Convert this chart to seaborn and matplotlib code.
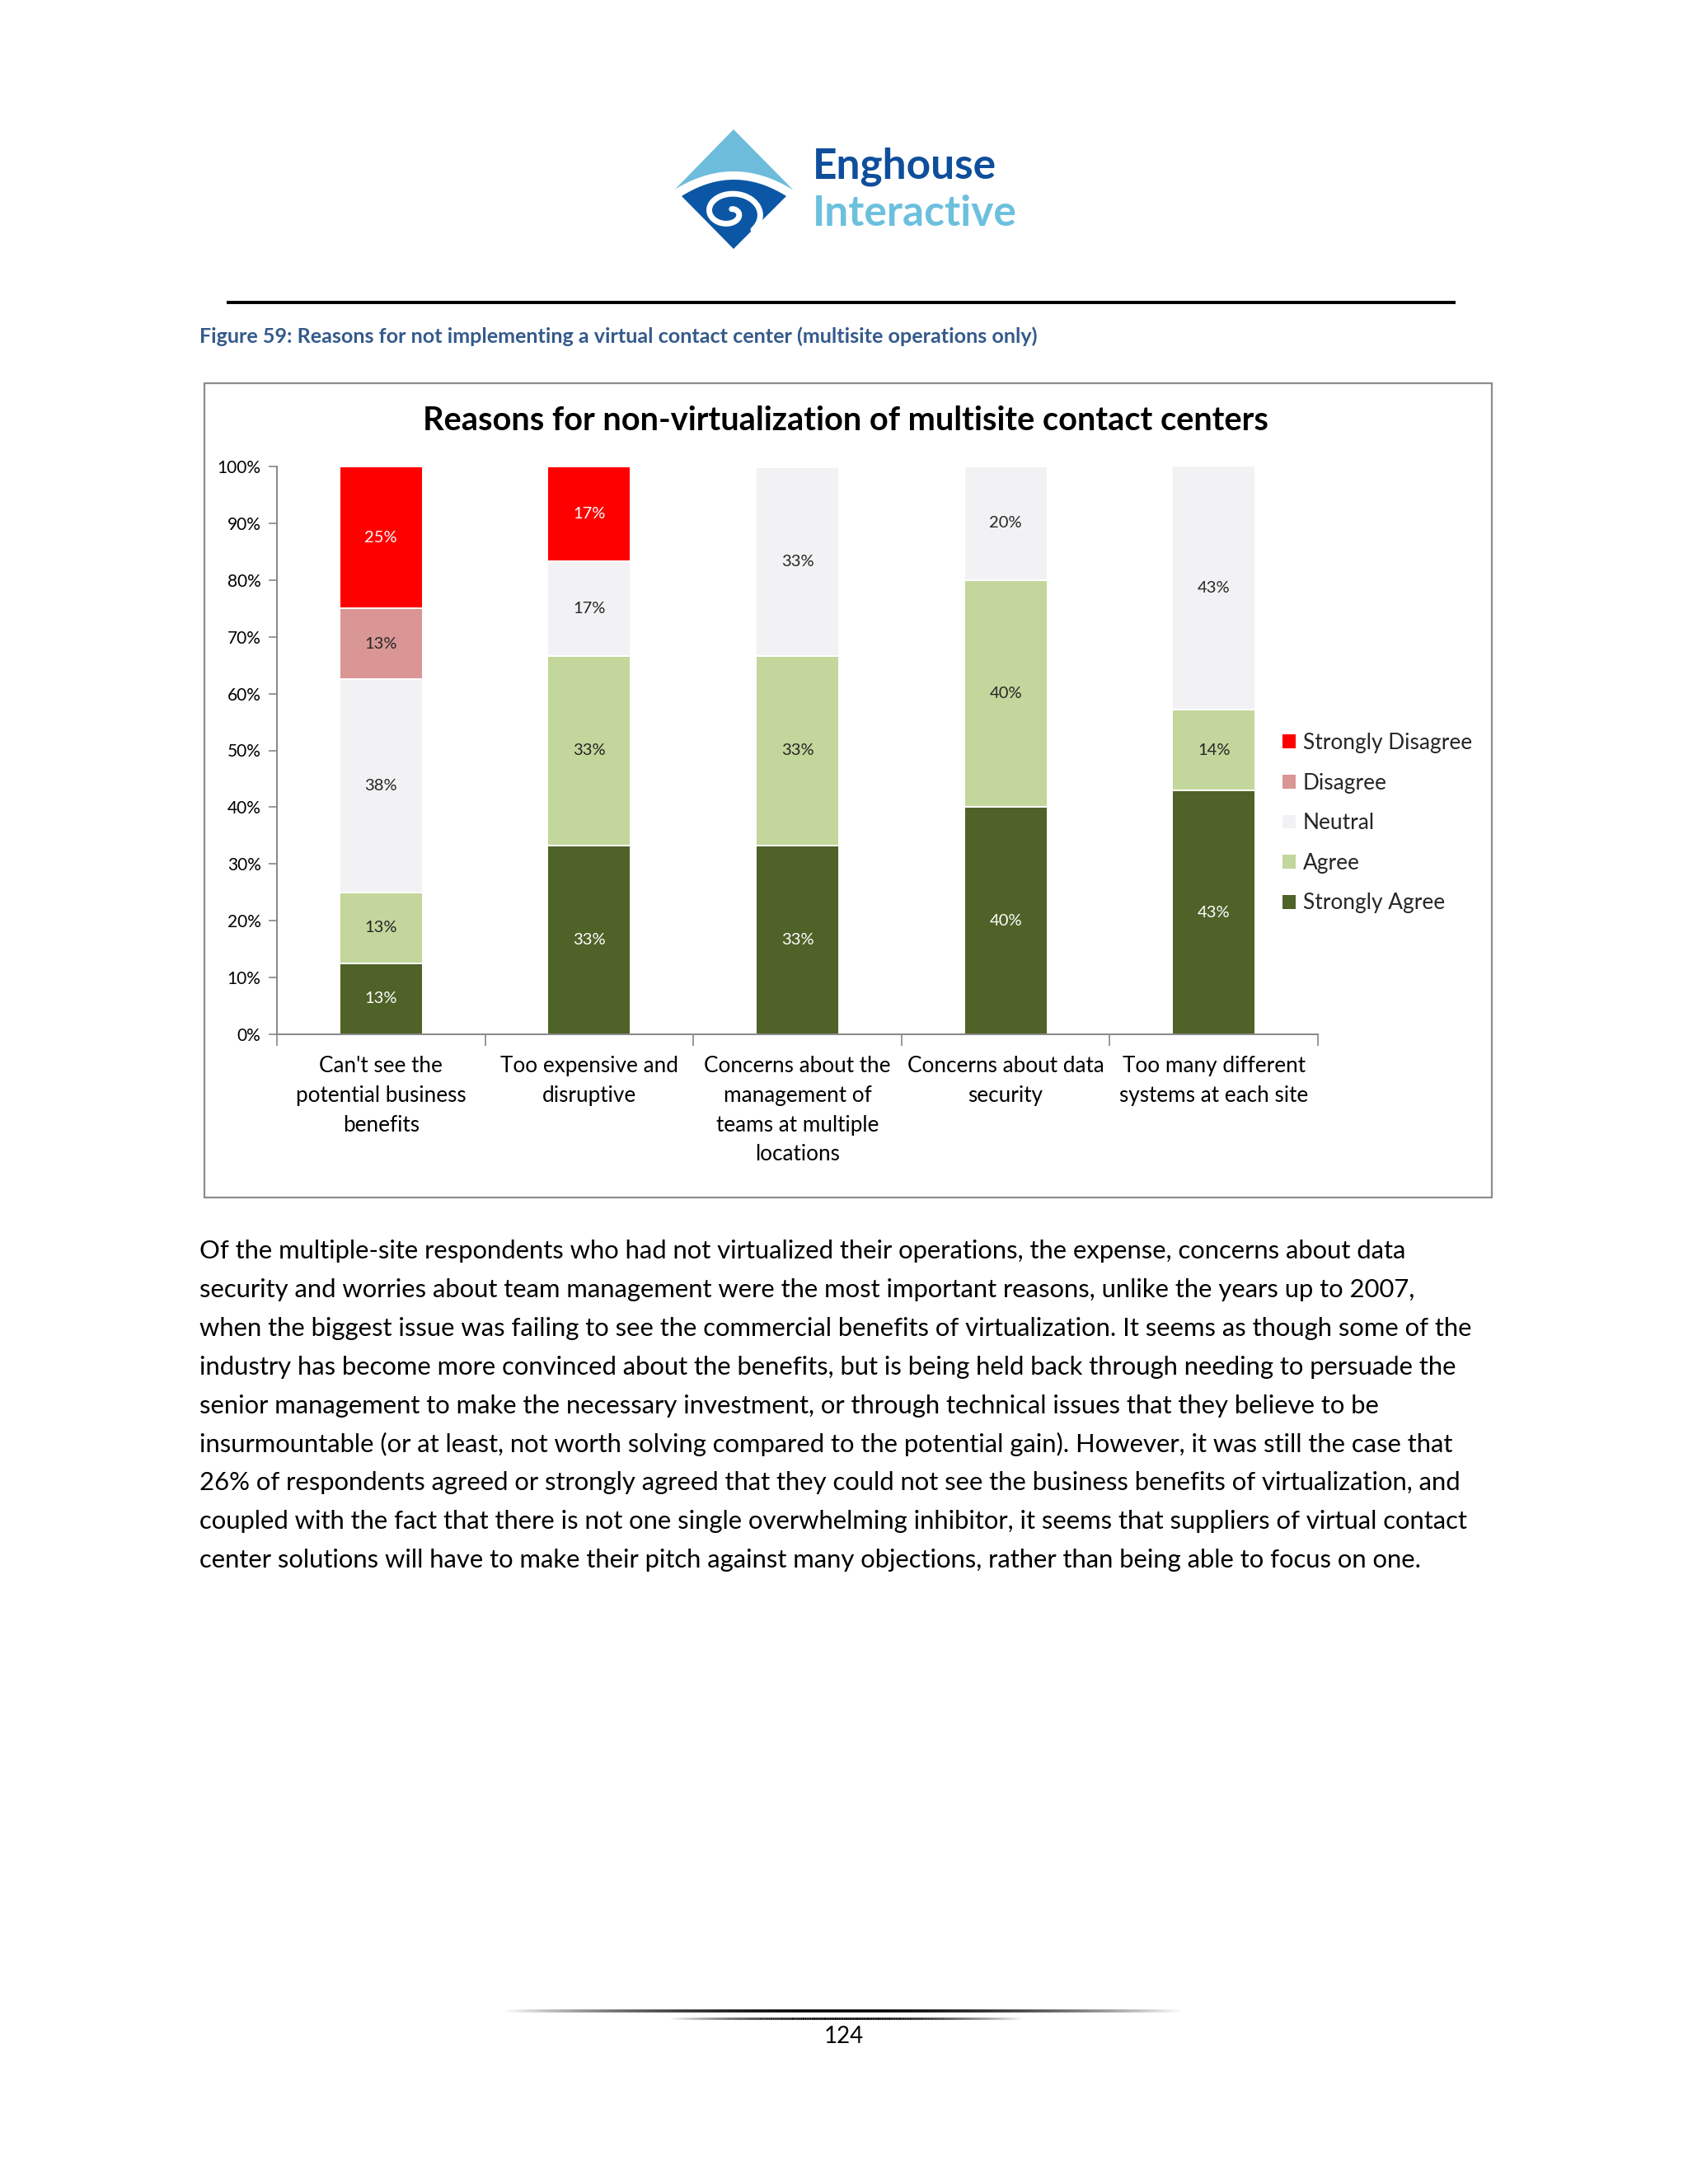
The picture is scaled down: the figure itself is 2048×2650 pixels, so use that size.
import numpy as np
import pandas as pd
import matplotlib
matplotlib.use("Agg")
import matplotlib.pyplot as plt
import seaborn as sns
from matplotlib.patches import Polygon, Rectangle, Patch
from matplotlib.collections import LineCollection
from matplotlib.ticker import PercentFormatter, FixedLocator

# ---------------- data ----------------
categories = [
    "Can't see the\npotential business\nbenefits",
    "Too expensive and\ndisruptive",
    "Concerns about the\nmanagement of\nteams at multiple\nlocations",
    "Concerns about data\nsecurity",
    "Too many different\nsystems at each site",
]
strongly_agree = [12.5, 33.3, 33.3, 40.0, 42.9]
agree = [12.5, 33.3, 33.3, 40.0, 14.3]
neutral = [37.5, 16.7, 33.3, 20.0, 42.9]
disagree = [12.5, 0.0, 0.0, 0.0, 0.0]
strongly_disagree = [25.0, 16.7, 0.0, 0.0, 0.0]

series_names = ["Strongly Agree", "Agree", "Neutral", "Disagree", "Strongly Disagree"]
series_colors = ["#4F6228", "#C3D69B", "#F2F1F3", "#D99694", "#FF0000"]
label_colors = ["white", "#262626", "#262626", "#262626", "white"]

chart_title = "Reasons for non-virtualization of multisite contact centers"
caption = "Figure 59: Reasons for not implementing a virtual contact center (multisite operations only)"
body_lines = [
    "Of the multiple-site respondents who had not virtualized their operations, the expense, concerns about data",
    "security and worries about team management were the most important reasons, unlike the years up to 2007,",
    "when the biggest issue was failing to see the commercial benefits of virtualization. It seems as though some of the",
    "industry has become more convinced about the benefits, but is being held back through needing to persuade the",
    "senior management to make the necessary investment, or through technical issues that they believe to be",
    "insurmountable (or at least, not worth solving compared to the potential gain). However, it was still the case that",
    "26% of respondents agreed or strongly agreed that they could not see the business benefits of virtualization, and",
    "coupled with the fact that there is not one single overwhelming inhibitor, it seems that suppliers of virtual contact",
    "center solutions will have to make their pitch against many objections, rather than being able to focus on one.",
]
page_number = "124"

# ---------------- setup ----------------
sns.set_theme(style="white")
plt.rcParams["font.family"] = ["Lato", "DejaVu Sans"]

W, H = 2048, 2650
fig = plt.figure(figsize=(W / 100, H / 100), dpi=100)
fig.patch.set_facecolor("white")

def fx(x):
    return x / W

def fy(y):
    return 1 - y / H

# background / decoration axes in pixel coords
bg = fig.add_axes([0, 0, 1, 1])
bg.set_xlim(0, W)
bg.set_ylim(H, 0)
bg.axis("off")

# ---- logo ----
light = "#6DBCDC"
dark = "#0B57A5"
T, L, R, B = (890, 157), (819, 230), (962, 230), (890, 302)
xs = np.linspace(L[0], R[0], 40)
arc_top = 230 - 22 * (1 - ((xs - 890) / 71.5) ** 2)
upper = [T, R] + list(zip(xs[::-1], arc_top[::-1]))
bg.add_patch(Polygon(upper, closed=True, facecolor=light, edgecolor="none"))
xs2 = np.linspace(827, 954, 40)
arc_low = 238 - 20 * (1 - ((xs2 - 890.5) / 63.5) ** 2)
lower = list(zip(xs2, arc_low)) + [B]
bg.add_patch(Polygon(lower, closed=True, facecolor=dark, edgecolor="none"))
th = np.linspace(-0.3, 2 * np.pi + 1.6, 200)
rr = 34 - 3.6 * th
sx = 885 + rr * np.cos(-th + np.pi * 0.15) * 1.15
sy = 258 + rr * np.sin(-th + np.pi * 0.15) * 0.85
bg.plot(sx, sy, color="white", lw=5, solid_capstyle="round")
bg.text(986, 216, "Enghouse", fontsize=37, fontweight="bold", color="#0E4E9C",
        ha="left", va="baseline")
bg.text(986, 274, "Interactive", fontsize=37, fontweight="bold", color="#6CC0DE",
        ha="left", va="baseline")

# ---- header rule ----
bg.plot([275, 1766], [367, 367], color="black", lw=2.8, solid_capstyle="butt")

# ---- caption ----
bg.text(242, 408, caption, fontsize=18.1, fontweight="bold", color="#345A8A",
        ha="left", va="center")

# ---- chart frame ----
bg.add_patch(Rectangle((248, 465), 1562, 988, facecolor="white",
                       edgecolor="#8C8C8C", lw=1.6))
bg.text(1026, 510, chart_title, fontsize=28.6, fontweight="bold", color="black",
        ha="center", va="center")

# ---- body text ----
for i, line in enumerate(body_lines):
    bg.text(242, 1518 + i * 46.9, line, fontsize=22.3, color="black",
            ha="left", va="center")

# ---- footer ----
def taper_line(x0, x1, y, lw):
    xx = np.linspace(x0, x1, 200)
    segs = [[(xx[k], y), (xx[k + 1], y)] for k in range(len(xx) - 1)]
    t = np.linspace(-1, 1, len(segs))
    cols = [(0, 0, 0, max(0.0, 1 - abs(v) ** 2)) for v in t]
    bg.add_collection(LineCollection(segs, colors=cols, linewidths=lw))

taper_line(608, 1436, 2440, 2.6)
taper_line(811, 1242, 2449, 2.0)
bg.text(1024, 2471, page_number, fontsize=20, color="black", ha="center", va="center")

# ---------------- chart ----------------
ax = fig.add_axes([fx(336), fy(1255), fx(1599) - fx(336), (1255 - 566) / H])
ax.set_facecolor("white")

layers = [strongly_agree, agree, neutral, disagree, strongly_disagree]
cum = np.cumsum(np.array(layers), axis=0)
bottoms = cum - np.array(layers)

# draw cumulative tops from the topmost layer down (stacking)
for k in range(len(layers) - 1, -1, -1):
    df = pd.DataFrame({"category": categories, "value": cum[k]})
    sns.barplot(data=df, x="category", y="value", order=categories,
                color=series_colors[k], saturation=1, width=0.4,
                edgecolor="white", linewidth=1.4, errorbar=None, ax=ax)

for k, vals in enumerate(layers):
    for i, v in enumerate(vals):
        if v > 0:
            ax.text(i, bottoms[k][i] + v / 2, f"{int(v + 0.5)}%",
                    ha="center", va="center", fontsize=14.5,
                    color=label_colors[k])

ax.set_xlim(-0.5, len(categories) - 0.5)
ax.set_ylim(0, 100)
ax.set_xlabel("")
ax.set_ylabel("")
ax.yaxis.set_major_locator(FixedLocator(np.arange(0, 101, 10)))
ax.yaxis.set_major_formatter(PercentFormatter(decimals=0))
ax.tick_params(axis="y", which="major", direction="out", length=7, width=1.2,
               color="#868686", labelsize=15, pad=7, left=True, labelcolor="black")
ax.set_xticks(range(len(categories)))
ax.set_xticklabels(categories, fontsize=18.8, linespacing=1.53)
ax.tick_params(axis="x", which="major", length=0, pad=19, labelcolor="black")
ax.set_xticks(np.arange(-0.5, len(categories), 1.0), minor=True)
ax.tick_params(axis="x", which="minor", direction="out", length=10, width=1.2,
               color="#868686", bottom=True)
for s in ["top", "right"]:
    ax.spines[s].set_visible(False)
for s in ["left", "bottom"]:
    ax.spines[s].set_visible(True)
    ax.spines[s].set_color("#868686")
    ax.spines[s].set_linewidth(1.4)
ax.grid(False)

handles = [Patch(facecolor=series_colors[k], edgecolor="none", label=series_names[k])
           for k in range(len(series_names) - 1, -1, -1)]
fig.legend(handles=handles, loc="upper left", bbox_to_anchor=(fx(1556), fy(889)),
           frameon=False, fontsize=18.9, handlelength=0.6, handleheight=0.6,
           handletextpad=0.35, labelspacing=0.90, borderpad=0, borderaxespad=0)

fig.savefig("out.png", dpi=100, facecolor="white")
